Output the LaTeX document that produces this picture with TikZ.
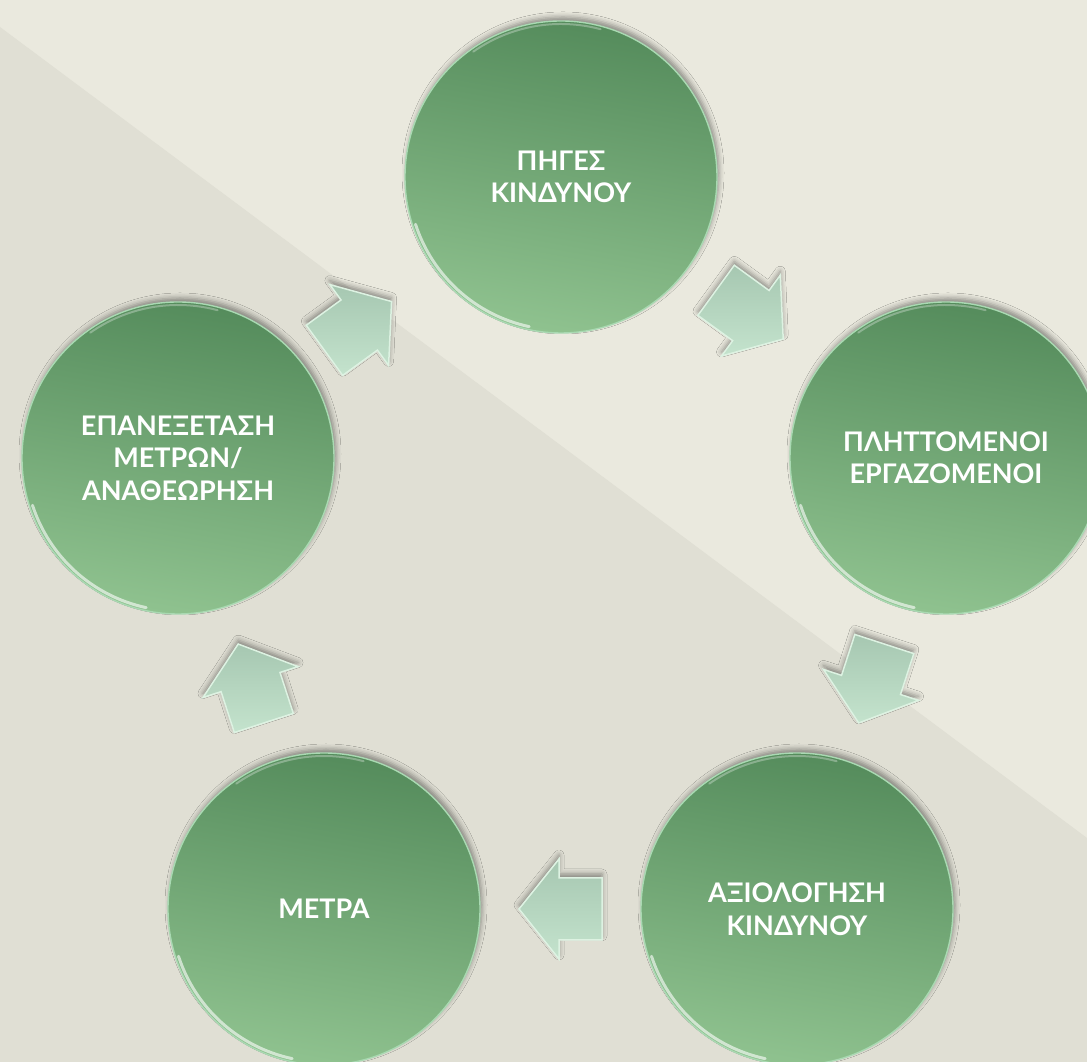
\documentclass[tikz,border=0pt]{standalone}
\usepackage{fontspec}
\setmainfont{Lato}
\usetikzlibrary{calc,shadows.blur}
\definecolor{bgA}{HTML}{EAE9DE}
\definecolor{bgB}{HTML}{E0DFD4}
\definecolor{gTop}{HTML}{558C5C}
\definecolor{gBot}{HTML}{8FC28F}
\definecolor{rim}{HTML}{A9D9B2}
\definecolor{arTop}{HTML}{A6C7B1}
\definecolor{arBot}{HTML}{C4E3CD}
\definecolor{arEdge}{HTML}{DDF2E2}
\tikzset{
  bubble/.style={circle, minimum size=312pt, inner sep=0pt,
    top color=gTop, bottom color=gBot, shading angle=-10,
    draw=rim, line width=1.4pt, text=white,
    font=\bfseries\fontsize{27}{32.5}\selectfont, align=center,
    blur shadow={shadow xshift=2pt, shadow yshift=4pt, shadow blur radius=5pt, shadow opacity=40}},
  blockarrow/.style={top color=arTop, bottom color=arBot, draw=arEdge,
    line width=1.5pt, line join=miter,
    blur shadow={shadow xshift=0pt, shadow yshift=4pt, shadow blur radius=5pt, shadow opacity=40}},
  glint/.style={white, opacity=.6, line width=3pt, line cap=round}
}
\begin{document}
\begin{tikzpicture}[x=1pt,y=1pt]
\useasboundingbox (0,0) rectangle (1087,1062);
% background
\fill[bgA] (0,0) rectangle (1087,1062);
\fill[bgB] (0,1035) -- (1087,224) -- (1087,0) -- (0,0) -- cycle;

% circles
\node[bubble] (n1) at (561,885) {ΠΗΓΕΣ\\ΚΙΝΔΥΝΟΥ};
\node[bubble] (n2) at (946,604) {ΠΛΗΤΤΟΜΕΝΟΙ\\ΕΡΓΑΖΟΜΕΝΟΙ};
\node[bubble] (n3) at (797,153) {ΑΞΙΟΛΟΓΗΣΗ\\ΚΙΝΔΥΝΟΥ};
\node[bubble] (n4) at (324,153) {ΜΕΤΡΑ};
\node[bubble] (n5) at (178,604) {ΕΠΑΝΕΞΕΤΑΣΗ\\ΜΕΤΡΩΝ/\\ΑΝΑΘΕΩΡΗΣΗ};

% glints on the rims
\foreach \n in {n1,n2,n3,n4,n5}{
  \draw[glint] ($(\n)+(198:153)$) arc[start angle=198, end angle=258, radius=153];
  \draw[glint, opacity=.3, line width=2pt] ($(\n)+(75:153)$) arc[start angle=75, end angle=125, radius=153];
}

% block arrows between the circles
\draw[blockarrow, shift={($(n1)!0.49!(n2)$)}, rotate=-36]
  (-41.5,-31) -- (1.5,-31) -- (1.5,-50) -- (41.5,0) -- (1.5,50) -- (1.5,31) -- (-41.5,31) -- cycle;
\draw[blockarrow, shift={($(n2)!0.5!(n3)$)}, rotate=-108]
  (-41.5,-31) -- (1.5,-31) -- (1.5,-50) -- (41.5,0) -- (1.5,50) -- (1.5,31) -- (-41.5,31) -- cycle;
\draw[blockarrow, shift={($(n3)!0.5!(n4)$)}, rotate=180]
  (-41.5,-31) -- (1.5,-31) -- (1.5,-50) -- (41.5,0) -- (1.5,50) -- (1.5,31) -- (-41.5,31) -- cycle;
\draw[blockarrow, shift={($(n4)!0.5!(n5)$)}, rotate=108]
  (-41.5,-31) -- (1.5,-31) -- (1.5,-50) -- (41.5,0) -- (1.5,50) -- (1.5,31) -- (-41.5,31) -- cycle;
\draw[blockarrow, shift={($(n5)!0.47!(n1)$)}, rotate=36]
  (-41.5,-31) -- (1.5,-31) -- (1.5,-50) -- (41.5,0) -- (1.5,50) -- (1.5,31) -- (-41.5,31) -- cycle;
\end{tikzpicture}
\end{document}
